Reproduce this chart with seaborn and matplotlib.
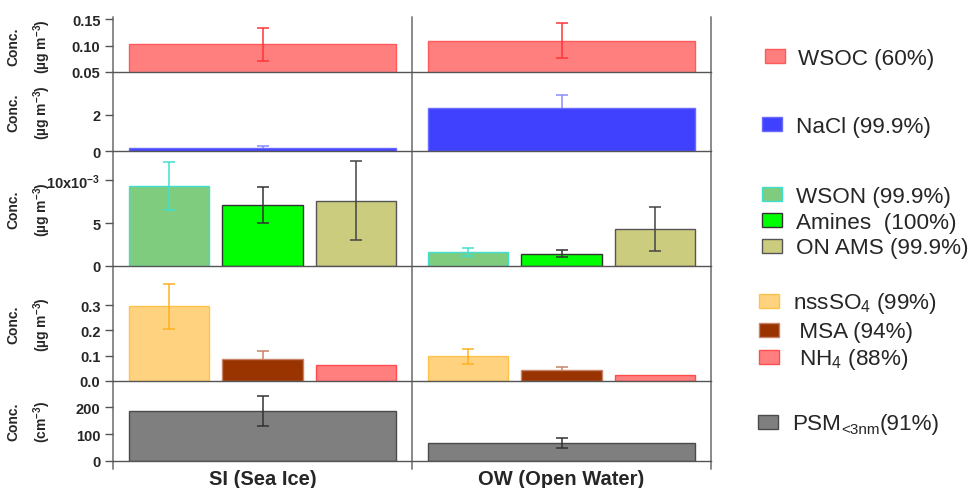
import numpy as np
import pandas as pd
import matplotlib
matplotlib.use("Agg")
import matplotlib.pyplot as plt
import seaborn as sns
from matplotlib.patches import Rectangle
from matplotlib.lines import Line2D

# ---------------- data ----------------
groups = ["SI (Sea Ice)", "OW (Open Water)"]

wsoc = [0.102, 0.109]
wsoc_err = [0.031, 0.033]
nacl = [0.17, 2.37]
nacl_err = [0.08, 0.73]
wson = [0.00937, 0.00163]
wson_err = [0.0028, 0.0005]
amines = [0.0071, 0.00143]
amines_err = [0.0021, 0.0004]
on_ams = [0.0076, 0.0043]
on_ams_err = [0.0046, 0.0026]
nsso4 = [0.295, 0.098]
nsso4_err = [0.088, 0.030]
msa = [0.087, 0.042]
msa_err = [0.030, 0.013]
nh4 = [0.065, 0.025]
psm = [185, 67.5]
psm_err = [56, 20]

legend_labels = ["WSOC (60%)", "NaCl (99.9%)", "WSON (99.9%)", "Amines  (100%)",
                 "ON AMS (99.9%)", "nssSO$_4$ (99%)", " MSA (94%)", " NH$_4$ (88%)",
                 ("PSM", "<3nm", "(91%)")]

# ---------------- style ----------------
sns.set_style("white")
plt.rcParams["font.family"] = ["Liberation Sans", "DejaVu Sans"]
plt.rcParams["mathtext.fontset"] = "custom"
plt.rcParams["mathtext.rm"] = "Liberation Sans"
plt.rcParams["mathtext.bf"] = "Liberation Sans:bold"
plt.rcParams["mathtext.it"] = "Liberation Sans:italic"
plt.rcParams["mathtext.sf"] = "Liberation Sans"

W, H = 974, 489
fig = plt.figure(figsize=(W / 100, H / 100), dpi=100)

def fx(x):
    return x / W

def fy(y):
    return 1 - y / H

# panel pixel boundaries
bounds = [20, 73, 152, 267, 382, 462]
left_px, right_px = 113, 711
axes = []
for i in range(5):
    ax = fig.add_axes([fx(left_px), fy(bounds[i + 1]), fx(right_px) - fx(left_px),
                       (bounds[i + 1] - bounds[i]) / H])
    axes.append(ax)

ylab_ug = "Conc.\n(µg m$^{\\mathbf{-3}}$)"
ylab_cm = "Conc.\n(cm$^{\\mathbf{-3}}$)"

panels = [
    dict(series=[("WSOC", wsoc, wsoc_err, "#FF7F7F", "#FF5A5A", "#FF3535", True)],
         ylim=(0.05, 0.15), ticks=[0.05, 0.10, 0.15], labels=["0.05", "0.10", "0.15"],
         ylabel=ylab_ug, width=0.896, gap=0),
    dict(series=[("NaCl", nacl, nacl_err, "#4040FF", "#6A6AFF", "#8C8CFF", False)],
         ylim=(0, 4.35), ticks=[0, 2], labels=["0", "2"],
         ylabel=ylab_ug, width=0.896, gap=0),
    dict(series=[("WSON", wson, wson_err, "#7FCC7F", "#40E0D0", "#40E0D0", True),
                 ("Amines", amines, amines_err, "#00FF00", "#333333", "#333333", True),
                 ("ON AMS", on_ams, on_ams_err, "#CCCC7F", "#555555", "#444444", True)],
         ylim=(0, 0.0134), ticks=[0, 0.005, 0.010],
         labels=["0", "5", "10x10$^{\\mathbf{-3}}$"],
         ylabel=ylab_ug, width=0.938, gap=0.144),
    dict(series=[("nssSO4", nsso4, nsso4_err, "#FFD27F", "#FFC24D", "#FFB020", True),
                 ("MSA", msa, msa_err, "#993300", "#C8846A", "#C8846A", False),
                 ("NH4", nh4, None, "#FF7F7F", "#FF4D4D", "#FF4D4D", True)],
         ylim=(0, 0.454), ticks=[0, 0.1, 0.2, 0.3], labels=["0.0", "0.1", "0.2", "0.3"],
         ylabel=ylab_ug, width=0.938, gap=0.144),
    dict(series=[("PSM", psm, psm_err, "#7F7F7F", "#4A4A4A", "#333333", True)],
         ylim=(0, 298), ticks=[0, 100, 200], labels=["0", "100", "200"],
         ylabel=ylab_cm, width=0.896, gap=0),
]

spine_col = "#555555"
for ax, p in zip(axes, panels):
    rows = []
    for name, vals, err, *_ in p["series"]:
        for g, v in zip(groups, vals):
            rows.append(dict(group=g, species=name, value=v))
    df = pd.DataFrame(rows)
    order = [s[0] for s in p["series"]]
    pal = {s[0]: s[3] for s in p["series"]}
    sns.barplot(data=df, x="group", y="value", hue="species", hue_order=order,
                order=groups, palette=pal, saturation=1, dodge=True,
                width=p["width"], gap=p["gap"], errorbar=None, legend=False, ax=ax,
                zorder=2)
    for cont, (name, vals, err, fill, edge, ecol, front) in zip(ax.containers, p["series"]):
        xs = []
        for patch in cont.patches:
            patch.set_edgecolor(edge)
            patch.set_linewidth(1.0)
            xs.append(patch.get_x() + patch.get_width() / 2)
        if err is not None:
            ax.errorbar(xs, vals, yerr=err, fmt="none", ecolor=ecol, elinewidth=1.1,
                        capsize=4, capthick=1.1, zorder=3 if front else 1.5)
    ax.set_ylim(*p["ylim"])
    ax.set_xlim(-0.5, 1.5)
    ax.set_yticks(p["ticks"])
    ax.set_yticklabels(p["labels"], fontweight="bold", fontsize=10.5)
    ax.tick_params(axis="y", direction="out", length=6, width=1, color=spine_col, pad=3,
                   left=True)
    ax.tick_params(axis="x", length=0)
    ax.set_xlabel("")
    ax.set_ylabel(p["ylabel"], fontweight="bold", fontsize=10, linespacing=1.75)
    ax.yaxis.set_label_coords(-0.1, 0.5)
    ax.set_facecolor("none")
    for s in ["top", "right", "left"]:
        ax.spines[s].set_visible(False)
    ax.spines["bottom"].set_color(spine_col)
    ax.spines["bottom"].set_linewidth(1.0)
    ax.spines["bottom"].set_zorder(4)
    if ax is not axes[-1]:
        ax.set_xticklabels([])

axes[-1].set_xticks([0, 1])
axes[-1].set_xticklabels(groups, fontweight="bold", fontsize=14.5)
axes[-1].tick_params(axis="x", pad=6)

# vertical frame lines
x0 = axes[0].get_position().x0
x1 = axes[0].get_position().x1
for xv in [x0, (x0 + x1) / 2, x1]:
    fig.add_artist(Line2D([xv, xv], [fy(18), fy(470)], transform=fig.transFigure,
                          color="#8A8A8A", lw=1.4, zorder=0))

# legend drawn at the right
leg_items = [
    (legend_labels[0], "#FF7F7F", "#FF5A5A", 57, 765, 798),
    (legend_labels[1], "#4040FF", "#6A6AFF", 125, 762, 796),
    (legend_labels[2], "#7FCC7F", "#40E0D0", 195, 762, 796),
    (legend_labels[3], "#00FF00", "#333333", 221, 762, 796),
    (legend_labels[4], "#CCCC7F", "#555555", 247, 762, 796),
    (legend_labels[5], "#FFD27F", "#FFC24D", 302, 759, 793),
    (legend_labels[6], "#993300", "#C8846A", 331, 759, 793),
    (legend_labels[7], "#FF7F7F", "#FF4D4D", 358, 759, 793),
    (legend_labels[8], "#7F7F7F", "#4A4A4A", 423, 758, 792),
]
renderer = fig.canvas.get_renderer()
for lab, fc, ec, cy, px, tx in leg_items:
    fig.add_artist(Rectangle((fx(px), fy(cy + 7)), 20 / W, 14 / H, transform=fig.transFigure,
                             facecolor=fc, edgecolor=ec, lw=1.0))
    if isinstance(lab, tuple):
        base, sub, rest = lab
        t1 = fig.text(fx(tx), fy(cy + 7.5), base, fontsize=16.2, va="baseline", ha="left")
        x_px = t1.get_window_extent(renderer).x1
        t2 = fig.text(x_px / W, fy(cy + 11.5), sub, fontsize=11, va="baseline", ha="left")
        x_px = t2.get_window_extent(renderer).x1
        fig.text(x_px / W, fy(cy + 7.5), rest, fontsize=16.2, va="baseline", ha="left")
    else:
        fig.text(fx(tx), fy(cy + 7.5), lab, fontsize=16.2, va="baseline", ha="left")

fig.savefig("out.png", dpi=100)
